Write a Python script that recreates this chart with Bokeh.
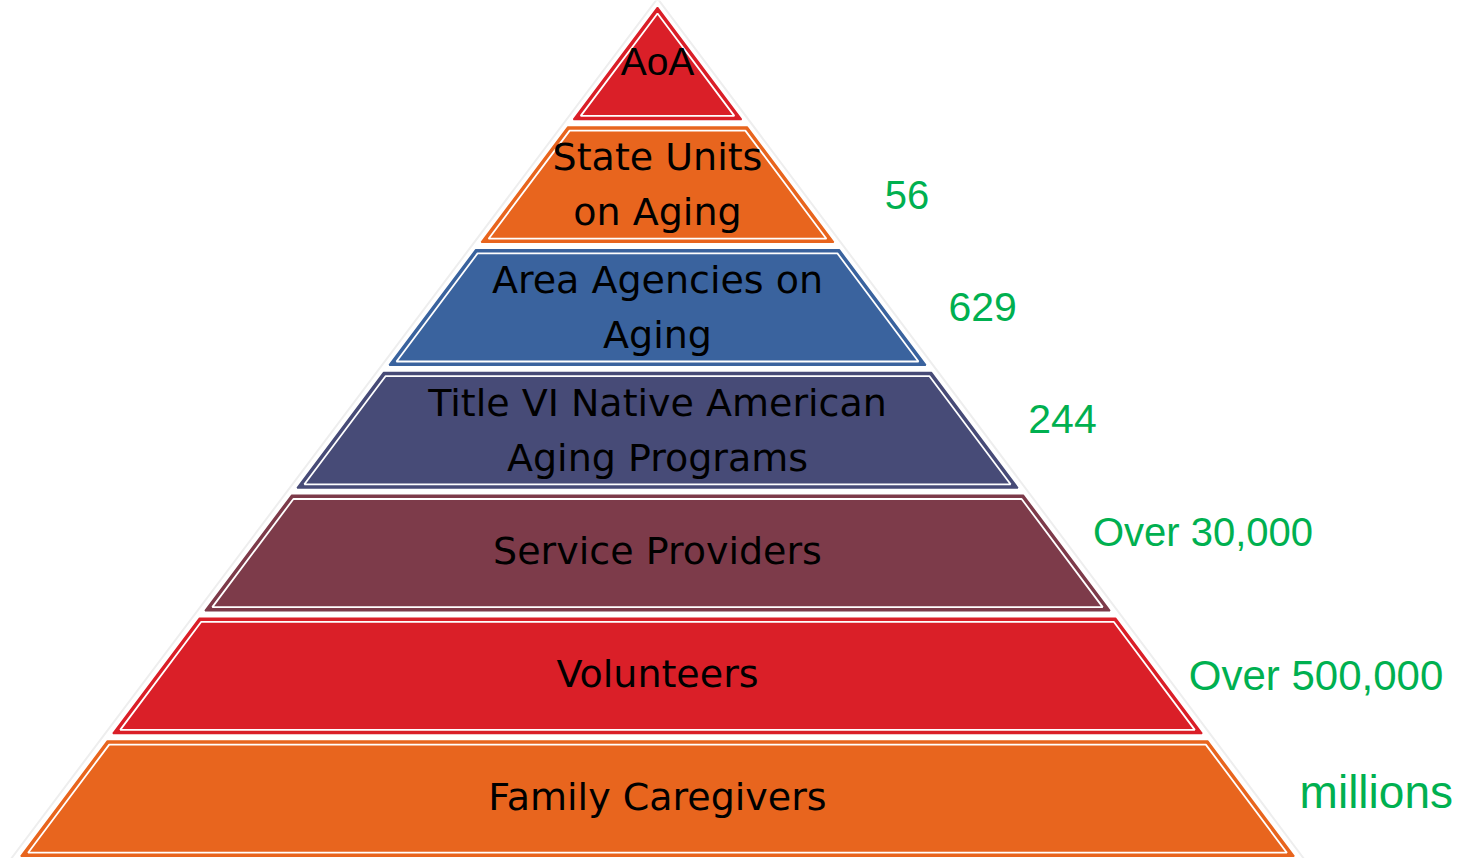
from bokeh.plotting import figure
from bokeh.models import Range1d, ColumnDataSource
from bokeh.core.properties import value
from bokeh.embed import file_html
from bokeh.resources import INLINE

# ---- data ----
tiers = ["AoA", "State Units\non Aging", "Area Agencies on\nAging",
         "Title VI Native American\nAging Programs", "Service Providers",
         "Volunteers", "Family Caregivers"]
counts = ["", "56", "629", "244", "Over 30,000", "Over 500,000", "millions"]
colors = ["#DA1F28", "#E8651E", "#3A639E", "#474B77", "#7D3B4A", "#DA1F28", "#E8651E"]

# ---- layout ----
W, H = 1465, 858
CX, APEX_Y, SLOPE = 657, 7.0, 0.75
FIRST_BOTTOM, PITCH, GAP = 119.0, 122.8, 7.5
INSET = 3.6
label_dx = [0, 87, 66, 62, 42, 30, 54]
label_dy = [0, 10, 0, -11, -21, 0, -7]
label_size = [40, 40, 41, 41, 40, 42, 46]
text_dy = [-8, 0, 0, 0, -2, -2, -2]


def hw(y):
    return max(SLOPE * (y - APEX_Y), 0.0)


p = figure(width=W, height=H, output_backend="svg", toolbar_location=None,
           x_range=Range1d(0, W), y_range=Range1d(H, 0),
           min_border=0, background_fill_color="white", border_fill_color="white")
p.axis.visible = False
p.grid.visible = False
p.outline_line_color = None

# faint outer shadow outline
p.line([CX - hw(858) - 8, CX, CX + hw(858) + 8], [858, APEX_Y - 9, 858],
       line_color="#eeeeee", line_width=2)

xs_o, ys_o, xs_i, ys_i, tx, ty, lx, ly = [], [], [], [], [], [], [], []
prev_bottom = None
for i in range(len(tiers)):
    bottom = FIRST_BOTTOM + i * PITCH
    top = APEX_Y if i == 0 else prev_bottom + GAP
    prev_bottom = bottom
    xs_o.append([CX - hw(top), CX + hw(top), CX + hw(bottom), CX - hw(bottom)])
    ys_o.append([top, top, bottom, bottom])
    it = max(top + INSET, APEX_Y + 1.25 * INSET / SLOPE)
    ib = bottom - INSET
    ih = lambda y: max(hw(y) - 1.25 * INSET, 0.0)
    xs_i.append([CX - ih(it), CX + ih(it), CX + ih(ib), CX - ih(ib)])
    ys_i.append([it, it, ib, ib])
    cy = (top + bottom) / 2 if i > 0 else top + (bottom - top) * 0.55
    tx.append(CX)
    ty.append(cy + text_dy[i])
    y_l = cy + label_dy[i]
    lx.append(CX + hw(y_l) + label_dx[i])
    ly.append(y_l)

p.patches(xs_o, ys_o, fill_color=colors, line_color=colors, line_width=1.6)
p.patches(xs_i, ys_i, fill_color=None, line_color="white", line_width=1.8)

# tier labels
src_t = ColumnDataSource(dict(x=tx[1:], y=ty[1:], t=tiers[1:]))
p.text("x", "y", text="t", source=src_t, text_font=value("DejaVu Sans"),
       text_font_size="38px", text_color="black", text_align="center",
       text_baseline="middle", text_line_height=1.26)
p.text([tx[0]], [ty[0]], text=[tiers[0]], text_font=value("Liberation Sans"),
       text_font_size="39px", text_color="black", text_align="center",
       text_baseline="middle")

# count labels
src_l = ColumnDataSource(dict(x=lx[1:], y=ly[1:], t=counts[1:],
                              s=[f"{s}px" for s in label_size[1:]]))
p.text("x", "y", text="t", source=src_l, text_font=value("Liberation Sans"),
       text_font_size="s", text_color="#00B050", text_align="left",
       text_baseline="middle")

open("out.html", "w").write(file_html(p, INLINE))
